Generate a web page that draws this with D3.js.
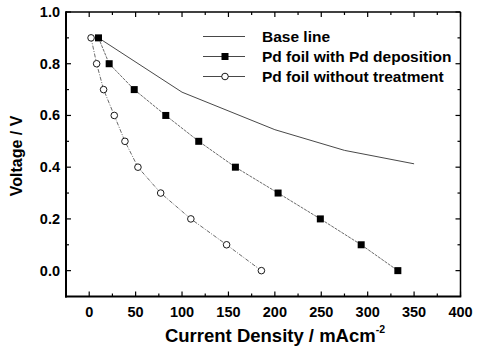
<!DOCTYPE html>
<html><head><meta charset="utf-8">
<script src="https://cdn.jsdelivr.net/npm/d3@7"></script>
<style>body{margin:0;background:#fff}svg text{font-family:"Liberation Sans",Arial,sans-serif;font-weight:bold;fill:#000}</style>
</head><body>
<svg id="c" width="477" height="352"></svg>
<script>
const seriesNames = ["Base line", "Pd foil with Pd deposition", "Pd foil without treatment"];
const baseX = [10, 100, 200, 275, 350];
const baseY = [0.9, 0.69, 0.545, 0.465, 0.413];
const depX = [10, 21.5, 48.5, 82.5, 118, 157.5, 203.5, 249, 293, 332.5];
const depY = [0.9, 0.8, 0.7, 0.6, 0.5, 0.4, 0.3, 0.2, 0.1, 0.0];
const rawX = [2, 8, 15.5, 27, 38.5, 52.5, 77, 109.5, 148, 185.5];
const rawY = [0.9, 0.8, 0.7, 0.6, 0.5, 0.4, 0.3, 0.2, 0.1, 0.0];
const xTicks = [0, 50, 100, 150, 200, 250, 300, 350, 400];
const yTicks = [0.0, 0.2, 0.4, 0.6, 0.8, 1.0];

const svg = d3.select("#c");
const L = 66, R = 460.5, T = 12, B = 296.5;
const x = d3.scaleLinear().domain([-25, 400]).range([L, R]);
const y = d3.scaleLinear().domain([-0.1, 1.0]).range([B, T]);

const xMinor = d3.range(-25, 401, 25).filter(v => v % 50 !== 0 && v > -25);
const yMinor = [0.1, 0.3, 0.5, 0.7, 0.9];

// ticks (inward) on all four sides
const g = svg.append("g").attr("stroke", "#000").attr("stroke-width", 1.2);
xTicks.forEach(v => {
  g.append("line").attr("x1", x(v)).attr("x2", x(v)).attr("y1", B).attr("y2", B - 5);
  g.append("line").attr("x1", x(v)).attr("x2", x(v)).attr("y1", T).attr("y2", T + 5);
});
xMinor.forEach(v => {
  g.append("line").attr("x1", x(v)).attr("x2", x(v)).attr("y1", B).attr("y2", B - 3);
  g.append("line").attr("x1", x(v)).attr("x2", x(v)).attr("y1", T).attr("y2", T + 3);
});
yTicks.forEach(v => {
  g.append("line").attr("y1", y(v)).attr("y2", y(v)).attr("x1", L).attr("x2", L + 5);
  g.append("line").attr("y1", y(v)).attr("y2", y(v)).attr("x1", R).attr("x2", R - 5);
});
yMinor.forEach(v => {
  g.append("line").attr("y1", y(v)).attr("y2", y(v)).attr("x1", L).attr("x2", L + 3);
  g.append("line").attr("y1", y(v)).attr("y2", y(v)).attr("x1", R).attr("x2", R - 3);
});

// frame
svg.append("line").attr("x1", L).attr("x2", R).attr("y1", T).attr("y2", T).attr("stroke", "#000").attr("stroke-width", 1.5);
svg.append("line").attr("x1", R).attr("x2", R).attr("y1", T).attr("y2", B).attr("stroke", "#000").attr("stroke-width", 1.5);
svg.append("line").attr("x1", L).attr("x2", L).attr("y1", T - 0.75).attr("y2", B + 1).attr("stroke", "#000").attr("stroke-width", 2);
svg.append("line").attr("x1", L - 1).attr("x2", R + 0.75).attr("y1", B).attr("y2", B).attr("stroke", "#000").attr("stroke-width", 2);

// tick labels
svg.append("g").selectAll("text").data(xTicks).join("text")
  .attr("x", d => x(d)).attr("y", 316.5).attr("text-anchor", "middle")
  .attr("font-size", 14.5).text(d => d);
svg.append("g").selectAll("text").data(yTicks).join("text")
  .attr("x", 60).attr("y", d => y(d) + 5).attr("text-anchor", "end")
  .attr("font-size", 14.5).text(d => d.toFixed(1));

// axis titles
svg.append("text").attr("transform", `translate(22,156) rotate(-90)`)
  .attr("text-anchor", "middle").attr("font-size", 16).text("Voltage / V");
const xt = svg.append("text").attr("x", 275).attr("y", 341.5).attr("text-anchor", "middle").attr("font-size", 18.5);
xt.append("tspan").text("Current Density / mAcm");
xt.append("tspan").attr("font-size", 10.5).attr("dy", -8.5).text("-2");

const line = d3.line().x(d => x(d[0])).y(d => y(d[1]));
const base = baseX.map((v, i) => [v, baseY[i]]);
const dep = depX.map((v, i) => [v, depY[i]]);
const raw = rawX.map((v, i) => [v, rawY[i]]);

svg.append("path").attr("d", line(base)).attr("fill", "none").attr("stroke", "#333").attr("stroke-width", 0.9);
svg.append("path").attr("d", line(dep)).attr("fill", "none").attr("stroke", "#444").attr("stroke-width", 0.8).attr("stroke-dasharray", "3,1");
svg.append("path").attr("d", line(raw)).attr("fill", "none").attr("stroke", "#444").attr("stroke-width", 0.8).attr("stroke-dasharray", "4,1.5,1,1.5");

svg.append("g").selectAll("rect").data(dep).join("rect")
  .attr("x", d => x(d[0]) - 3.5).attr("y", d => y(d[1]) - 3.5).attr("width", 7).attr("height", 7).attr("fill", "#000");
svg.append("g").selectAll("circle").data(raw).join("circle")
  .attr("cx", d => x(d[0])).attr("cy", d => y(d[1])).attr("r", 3.3)
  .attr("fill", "#fff").attr("stroke", "#000").attr("stroke-width", 0.9);

// legend
const lg = svg.append("g");
const ly = [36.5, 56.5, 76.5];
ly.forEach((yy, i) => {
  lg.append("line").attr("x1", 203).attr("x2", 245).attr("y1", yy).attr("y2", yy).attr("stroke", "#333").attr("stroke-width", 0.9);
  lg.append("text").attr("x", 262).attr("y", yy + 5).attr("font-size", 15.5).text(seriesNames[i]);
});
lg.append("rect").attr("x", 225 - 3.5).attr("y", ly[1] - 3.5).attr("width", 7).attr("height", 7).attr("fill", "#000");
lg.append("circle").attr("cx", 225).attr("cy", ly[2]).attr("r", 3.3).attr("fill", "#fff").attr("stroke", "#000").attr("stroke-width", 0.9);
</script>
</body></html>
